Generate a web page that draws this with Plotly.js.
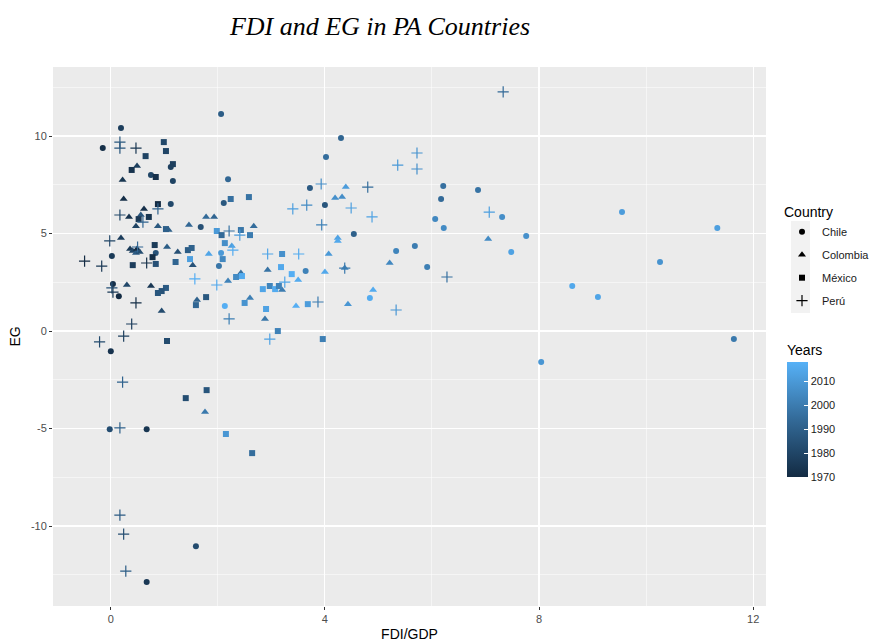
<!DOCTYPE html>
<html>
<head>
<meta charset="utf-8">
<script src="https://cdn.plot.ly/plotly-3.0.1.min.js"></script>
<style>html,body{margin:0;padding:0;background:#fff;}#chart{width:872px;height:642px;}</style>
</head>
<body>
<div id="chart"></div>
<script>
// ---- Data ----
const chileFDI  = [-0.15,0.19,2.06,4.30,4.02,3.72,4.00,4.54,6.21,6.86,6.17,6.06,6.22,7.31,7.76,7.48,9.55,11.33,10.26,11.64,8.04,8.62,9.10,4.84,5.33,5.68,5.91,3.64,2.06,2.13,2.02,1.68,2.19,2.11,1.16,1.12,0.75,1.12,0.84,0.02,0.04,0.15,0.00,-0.02,0.67,1.59,0.67];
const chileEG   = [9.38,10.41,11.13,9.90,8.92,7.33,6.46,4.97,7.44,7.23,6.77,5.74,5.28,5.85,4.87,4.05,6.10,5.28,3.54,-0.41,-1.59,2.31,1.74,1.69,4.10,4.36,3.28,3.08,4.00,1.28,3.33,5.33,7.79,6.56,7.69,8.41,8.00,6.51,4.00,3.85,2.41,1.79,-1.03,-5.03,-5.03,-11.03,-12.87];
const chileYear = [1971,1977,1989,1992,1995,1988,1986,1990,1996,1997,1994,2004,2005,2006,2007,2013,2011,2012,2008,1999,2009,2015,2014,2016,2003,2000,2001,2002,2010,2017,1998,1984,1993,1987,1979,1978,1980,1981,1985,1976,1972,1970,1973,1983,1974,1982,1975];

const colombiaFDI  = [0.22,0.49,0.24,0.62,0.56,0.34,0.47,0.88,1.08,0.19,0.36,0.41,0.47,0.49,0.54,1.05,1.25,1.53,0.30,0.75,0.95,1.61,1.46,1.78,1.93,2.67,1.83,2.26,2.43,2.19,2.60,2.93,2.88,3.20,3.50,3.46,4.07,4.24,4.24,4.39,4.19,4.32,4.37,4.00,5.21,4.90,4.43,7.05,1.76];
const colombiaEG   = [7.74,8.46,6.77,6.26,5.95,5.85,5.38,5.38,5.18,4.77,4.21,4.10,4.00,4.21,4.05,4.31,4.05,3.38,2.36,2.31,1.03,1.59,5.44,5.85,5.85,5.38,3.95,4.36,2.97,2.56,1.69,3.13,0.62,2.10,2.62,1.28,3.95,4.77,4.62,7.38,6.82,6.87,3.23,3.03,3.49,2.10,1.38,4.72,-4.15];
const colombiaYear = [1974,1978,1971,1972,1986,1973,1979,1987,1990,1977,1976,1980,1988,1970,1983,1989,1984,1985,1981,1975,1982,1991,1993,1994,1992,1995,2014,2012,1996,2002,2001,1997,1998,2000,2016,2017,2010,2013,2015,2011,2007,2006,2003,2015,2004,2016,2009,2005,1999];

const mexicoFDI  = [0.99,1.03,0.65,0.39,1.16,0.84,0.88,0.71,0.52,1.03,0.82,0.78,0.41,0.84,1.21,1.44,1.51,1.48,1.98,2.07,2.13,2.09,2.24,2.58,2.43,2.60,2.34,2.45,1.78,1.59,2.50,1.03,0.95,0.88,1.05,2.90,3.12,3.20,3.18,3.38,2.84,2.97,3.07,3.14,3.68,3.96,1.40,1.79,2.15,2.64];
const mexicoEG   = [9.69,9.23,8.97,8.26,8.56,7.90,6.51,5.85,5.74,5.23,4.41,3.79,3.38,3.44,3.54,4.15,4.26,3.69,5.13,4.92,4.51,3.69,6.77,6.87,5.18,4.92,2.77,2.82,1.74,1.33,1.44,2.21,2.05,1.95,-0.51,1.13,0.00,3.95,3.28,2.92,2.15,2.31,2.15,2.31,1.38,-0.41,-3.44,-3.03,-5.28,-6.26];
const mexicoYear = [1981,1980,1979,1973,1978,1972,1970,1974,1975,1990,1976,1971,1977,1984,1992,1989,1991,2012,2010,1994,2006,2004,1996,1997,1998,2000,2005,2016,1987,1993,2008,1988,1985,1986,1982,2013,2002,2007,2015,2017,2014,2003,2016,2002,2011,2001,1983,1986,2009,1995];

const peruFDI  = [0.17,0.17,0.47,0.88,0.17,0.60,-0.02,0.50,-0.49,-0.17,0.67,0.02,0.04,0.47,0.39,0.24,-0.21,0.22,0.17,0.17,0.24,0.28,2.21,2.41,2.28,1.57,1.98,2.21,2.93,3.51,3.25,2.97,3.40,3.66,3.93,4.80,4.49,4.88,3.94,4.37,3.87,5.33,6.28,5.72,5.36,5.72,7.07,7.33];
const peruEG   = [9.69,9.38,9.38,6.26,5.95,5.59,4.62,4.31,3.59,3.33,3.49,2.21,2.00,1.44,0.36,-0.26,-0.56,-2.62,-4.97,-9.44,-10.41,-12.31,5.13,4.92,4.15,2.67,2.36,0.62,3.95,3.95,2.51,-0.41,6.26,6.46,7.54,7.38,6.31,5.85,5.44,3.23,1.49,1.08,2.77,9.13,8.51,8.31,6.10,12.26];
const peruYear = [1987,1986,1974,1991,1981,1992,1980,1993,1970,1975,1972,1985,1976,1971,1977,1978,1982,1991,1990,1988,1983,1989,1997,2011,2016,2017,2015,2001,2014,2016,2014,2013,2012,2005,2006,1995,2012,2013,2002,1999,2000,2009,1996,2008,2010,2007,2012,1994];

const countryNames = ["Chile","Colombia","México","Perú"];
const xTickVals = [0,4,8,12];
const xTickText = ["0","4","8","12"];
const yTickVals = [-10,-5,0,5,10];
const yTickText = ["-10","-5","0","5","10"];
const yearTickVals = [1970,1980,1990,2000,2010];
const yearTickText = ["1970","1980","1990","2000","2010"];

// ---- Styling ----
const W = 872, H = 642;
const M = {l:53, r:106, t:67, b:36};
const PW = W - M.l - M.r, PH = H - M.t - M.b;
const px2x = p => (p - M.l) / PW;
const py2y = p => (H - M.b - p) / PH;

const cscale = [[0,'#132B43'],[0.5,'#336A98'],[1,'#56B1F7']];
const CMIN = 1970, CMAX = 2018;

function series(name, xs, ys, yrs, symbol, size, showscale){
  const thin = symbol === 'cross-thin';
  const marker = {
    symbol: symbol, size: size,
    color: yrs, colorscale: cscale, cmin: CMIN, cmax: CMAX,
    showscale: !!showscale,
    line: thin ? {width:1.2, color: yrs, colorscale: cscale, cmin: CMIN, cmax: CMAX} : {width:0}
  };
  if (showscale){
    marker.colorbar = {
      title: {text:'Years', side:'top', font:{family:'Liberation Sans, Arial, sans-serif', size:14, color:'#000'}},
      x: px2x(787), xanchor:'left', xpad:0,
      y: py2y(477), yanchor:'bottom', ypad:0,
      thicknessmode:'pixels', thickness:21,
      lenmode:'pixels', len:136,
      outlinewidth:0,
      tickmode:'array', tickvals: yearTickVals, ticktext: yearTickText,
      ticks:'inside', ticklen:4, tickcolor:'#ffffff', tickwidth:1,
      tickfont:{family:'Liberation Sans, Arial, sans-serif', size:11, color:'#1a1a1a'}
    };
  }
  return {type:'scatter', mode:'markers', name:name, x:xs, y:ys, marker:marker,
          showlegend:false, hoverinfo:'x+y+text', text: yrs};
}

const traces = [
  series('Chile', chileFDI, chileEG, chileYear, 'circle', 6, true),
  series('Colombia', colombiaFDI, colombiaEG, colombiaYear, 'triangle-up', 7, false),
  series('México', mexicoFDI, mexicoEG, mexicoYear, 'square', 6, false),
  series('Perú', peruFDI, peruEG, peruYear, 'cross-thin', 8, false)
];
// legend-only entries (black keys as in the reference)
const legSym = ['circle','triangle-up','square','cross-thin'];
const legSize = [6,7,6,8];
countryNames.forEach((n,i)=>{
  traces.push({type:'scatter', mode:'markers', name:n, x:[null], y:[null],
    legendgroup:'g'+i, showlegend:true,
    marker:{symbol:legSym[i], size:legSize[i], color:'#000', line:{width: legSym[i]==='cross-thin'?1.2:0, color:'#000'}}});
});

const axisFont = {family:'Liberation Sans, Arial, sans-serif', size:11, color:'#4D4D4D'};
const layout = {
  width: W, height: H,
  margin: {l:M.l, r:M.r, t:M.t, b:M.b, pad:0, autoexpand:false},
  paper_bgcolor:'#ffffff', plot_bgcolor:'#EBEBEB',
  font:{family:'Liberation Sans, Arial, sans-serif'},
  title:{text:'FDI and EG in PA Countries', xref:'container', x:380/W, xanchor:'center',
         yref:'container', y:1-26/H, yanchor:'middle',
         font:{family:'Liberation Serif, serif', size:26, style:'italic', color:'#000'}},
  xaxis:{range:[-1.08,12.24], tickmode:'array', tickvals:xTickVals, ticktext:xTickText,
         showgrid:true, gridcolor:'#ffffff', gridwidth:1.1, zeroline:false, showline:false,
         ticks:'outside', ticklen:3, tickcolor:'#333333', tickwidth:1, tickfont:axisFont,
         minor:{tickmode:'array', tickvals:[-2,2,6,10], showgrid:true, gridcolor:'#ffffff', gridwidth:0.5, ticks:''},
         title:{text:'FDI/GDP', font:{family:'Liberation Sans, Arial, sans-serif', size:14, color:'#000'}, standoff:4},
         fixedrange:true},
  yaxis:{range:[-14.1,13.54], tickmode:'array', tickvals:yTickVals, ticktext:yTickText,
         showgrid:true, gridcolor:'#ffffff', gridwidth:1.1, zeroline:false, showline:false,
         ticks:'outside', ticklen:3, tickcolor:'#333333', tickwidth:1, tickfont:axisFont,
         minor:{tickmode:'array', tickvals:[-12.5,-7.5,-2.5,2.5,7.5,12.5], showgrid:true, gridcolor:'#ffffff', gridwidth:0.5, ticks:''},
         title:{text:'EG', font:{family:'Liberation Sans, Arial, sans-serif', size:14, color:'#000'}, standoff:6},
         fixedrange:true},
  legend:{title:{text:'Country', font:{family:'Liberation Sans, Arial, sans-serif', size:14, color:'#000'}},
          x: px2x(782), xanchor:'left', y: py2y(199), yanchor:'top',
          bgcolor:'rgba(0,0,0,0)', borderwidth:0, tracegroupgap:4,
          font:{family:'Liberation Sans, Arial, sans-serif', size:11, color:'#1a1a1a'}},
  shapes:[{type:'rect', xref:'paper', yref:'paper', layer:'below',
           x0:px2x(791), x1:px2x(810), y0:py2y(313), y1:py2y(221),
           fillcolor:'#F2F2F2', line:{width:0}}],
  showlegend:true
};

Plotly.newPlot('chart', traces, layout, {displayModeBar:false, staticPlot:true});
</script>
</body>
</html>
